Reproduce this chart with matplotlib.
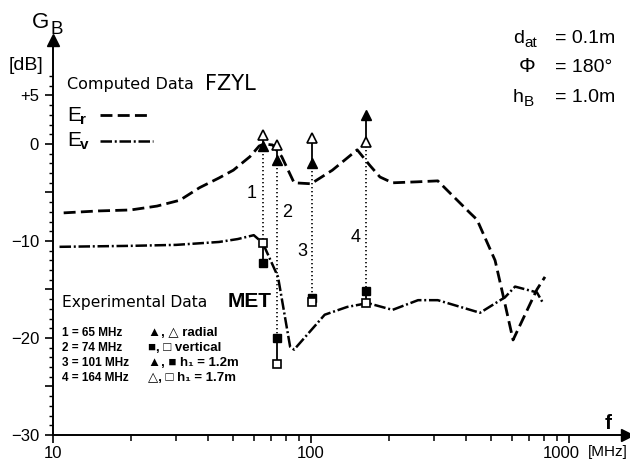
import matplotlib
matplotlib.use('Agg')
import matplotlib.pyplot as plt
import matplotlib.transforms as mtransforms
from matplotlib.ticker import FixedLocator, FixedFormatter, NullFormatter

plt.rcParams['font.family'] = ['Liberation Sans', 'DejaVu Sans']

# ---- data ----
er_freq = [11, 15, 20, 25.3, 31, 37, 44, 50, 58, 63, 66, 71, 77, 86, 100,
           121, 151, 169, 185, 207, 258, 310, 413, 440, 517, 553, 607, 751, 807]
er_gain = [-7.1, -6.9, -6.8, -6.4, -5.8, -4.5, -3.5, -2.7, -1.3, -0.2, 0.0, -0.1,
           -1.3, -4.0, -4.1, -2.7, -0.6, -2.2, -3.4, -4.0, -3.9, -3.8, -7.1, -7.8,
           -12.0, -15.4, -20.2, -15.0, -13.7]

ev_freq = [10.6, 20, 30, 44, 52, 60, 65, 74.5, 83, 86, 113, 138, 166, 207,
           260, 310, 452, 565, 618, 751, 793]
ev_gain = [-10.6, -10.5, -10.4, -10.1, -9.8, -9.4, -10.2, -13.7, -20.9, -21.2,
           -17.6, -16.8, -16.4, -17.1, -16.1, -16.1, -17.4, -15.8, -14.7, -15.3, -16.4]

meas_freq = [65, 74, 101, 164]
meas_label = ['1', '2', '3', '4']
tri_h12 = [-0.2, -1.7, -2.0, 3.0]     # filled triangles (radial, h1=1.2m)
tri_h17 = [0.9, -0.1, 0.6, 0.2]       # open triangles (radial, h1=1.7m)
sq_h12 = [-12.3, -20.0, -15.9, -15.2]  # filled squares (vertical, h1=1.2m)
sq_h17 = [-10.2, -22.7, -16.3, -16.4]  # open squares (vertical, h1=1.7m)

x_major = [10, 100, 1000]
x_major_labels = ['10', '100', '1000']
x_minor = [20, 30, 40, 50, 60, 70, 80, 90, 200, 300, 400, 500, 600, 700, 800, 900]
y_major = [5, 0, -5, -10, -15, -20, -25, -30]
y_major_labels = ['+5', '0', '', '\u221210', '', '\u221220', '', '\u221230']
y_minor = list(range(-30, 8))

# ---- figure ----
W, H = 630, 465
fig = plt.figure(figsize=(W / 100, H / 100), dpi=100)
ax = fig.add_axes([53 / W, 1 - 435 / H, 574 / W, 395 / H])
ax.set_xscale('log')
ax.set_xlim(10, 10 ** (1 + 574 / 258))
ax.set_ylim(-30, -30 + 395 / 9.7)

for s in ['top', 'right']:
    ax.spines[s].set_visible(False)
for s in ['left', 'bottom']:
    ax.spines[s].set_linewidth(1.4)

ax.plot(1, 0, '>', color='k', ms=9, transform=ax.transAxes, clip_on=False)
ax.plot(0, 1, '^', color='k', ms=9, transform=ax.transAxes, clip_on=False)

ax.xaxis.set_major_locator(FixedLocator(x_major))
ax.xaxis.set_major_formatter(FixedFormatter(x_major_labels))
ax.xaxis.set_minor_locator(FixedLocator(x_minor))
ax.xaxis.set_minor_formatter(NullFormatter())
ax.yaxis.set_major_locator(FixedLocator(y_major))
ax.yaxis.set_major_formatter(FixedFormatter(y_major_labels))
ax.yaxis.set_minor_locator(FixedLocator(y_minor))
ax.tick_params(axis='x', which='major', direction='out', length=6, width=1.2,
               labelsize=12, pad=2)
ax.tick_params(axis='x', which='minor', direction='out', length=4, width=1.1)
ax.tick_params(axis='y', which='major', direction='out', length=6, width=1.2,
               labelsize=12, pad=4)
ax.tick_params(axis='y', which='minor', direction='out', length=3, width=1.0)

# shift the "1000" label slightly left, as in the original
shift = mtransforms.ScaledTranslation(-8 / 100, 0, fig.dpi_scale_trans)
lbl = ax.xaxis.get_major_ticks()[2].label1
lbl.set_transform(lbl.get_transform() + shift)

# computed curves
ax.plot(er_freq, er_gain, color='k', lw=2.0, dashes=(4.3, 1.9), zorder=3)
ax.plot(ev_freq, ev_gain, color='k', lw=1.8, dashes=(4.6, 1.1, 0.8, 1.1), zorder=3)

# experimental data
for f, t12, t17, s12, s17 in zip(meas_freq, tri_h12, tri_h17, sq_h12, sq_h17):
    ax.plot([f, f], [min(t12, t17), max(s12, s17)], color='k', lw=1.2,
            dashes=(0.8, 1.6), zorder=2)
    ax.plot([f, f], [t12, t17], color='k', lw=1.3, zorder=4)
    ax.plot([f, f], [s12, s17], color='k', lw=1.3, zorder=4)
ax.plot(meas_freq, tri_h12, '^', ls='none', color='k', ms=7, zorder=5)
ax.plot(meas_freq, tri_h17, '^', ls='none', mfc='white', mec='k', mew=1.2, ms=7, zorder=5)
ax.plot(meas_freq, sq_h12, 's', ls='none', color='k', ms=6, zorder=5)
ax.plot(meas_freq, sq_h17, 's', ls='none', mfc='white', mec='k', mew=1.2, ms=6, zorder=5)

label_pos = [(61.8, -5.1, 'right'), (77.5, -7.1, 'left'), (96.5, -11.1, 'right'),
             (156, -9.6, 'right')]
for lab, (lx, ly, ha) in zip(meas_label, label_pos):
    ax.text(lx, ly, lab, fontsize=13, ha=ha, va='center')

# ---- annotation texts (figure pixel coordinates) ----
def ft(x, y, s, **kw):
    fig.text(x / W, 1 - y / H, s, **kw)

ft(32, 28, 'G', fontsize=16, va='baseline')
ft(50, 34, 'B', fontsize=13.5, va='baseline')
ft(26, 66, '[dB]', fontsize=14, ha='center', va='center')

ft(67, 89, 'Computed Data', fontsize=11.5, va='baseline', family='DejaVu Sans')
ft(205, 90, 'FZYL', fontsize=15, va='baseline', family='DejaVu Sans')
ft(67, 121, 'E', fontsize=15, va='baseline')
ft(80, 124, 'r', fontsize=11, va='baseline', fontweight='bold')
ft(67, 146, 'E', fontsize=15, va='baseline')
ft(80, 149, 'v', fontsize=11, va='baseline', fontweight='bold')

leg_er = plt.Line2D([100 / W, 151 / W], [1 - 115 / H, 1 - 115 / H], transform=fig.transFigure,
                    color='k', lw=2.0, dashes=(4.3, 1.9))
leg_ev = plt.Line2D([100 / W, 153 / W], [1 - 141 / H, 1 - 141 / H], transform=fig.transFigure,
                    color='k', lw=1.8, dashes=(4.6, 1.1, 0.8, 1.1))
fig.add_artist(leg_er)
fig.add_artist(leg_ev)

ft(62, 307, 'Experimental Data', fontsize=11.2, va='baseline', family='DejaVu Sans')
ft(228, 307, 'MET', fontsize=15, fontweight='bold', va='baseline')

table_left = ['1 = 65 MHz', '2 = 74 MHz', '3 = 101 MHz', '4 = 164 MHz']
table_right = ['\u25B2, \u25B3 radial', '\u25A0, \u25A1 vertical',
               '\u25B2, \u25A0 h\u2081 = 1.2m', '\u25B3, \u25A1 h\u2081 = 1.7m']
for i, (a, b) in enumerate(zip(table_left, table_right)):
    yb = 336 + 15 * i
    ft(62, yb, a, fontsize=8.5, va='baseline', fontweight='bold')
    ft(148, yb, b, fontsize=9.5, va='baseline', fontweight='bold')

ft(513, 43, 'd', fontsize=14, va='baseline')
ft(524, 47, 'at', fontsize=11, va='baseline')
ft(555, 43, '= 0.1m', fontsize=14, va='baseline')
ft(527, 72, '\u03A6', fontsize=15, ha='center', va='baseline')
ft(555, 72, '= 180\u00B0', fontsize=14, va='baseline')
ft(513, 102, 'h', fontsize=14, va='baseline')
ft(524, 106, 'B', fontsize=11, va='baseline')
ft(555, 102, '= 1.0m', fontsize=14, va='baseline')

ft(608, 423, 'f', fontsize=15, fontweight='bold', ha='center', va='center')
ft(608, 452, '[MHz]', fontsize=11, ha='center', va='center')

fig.savefig('out.png', dpi=100)
